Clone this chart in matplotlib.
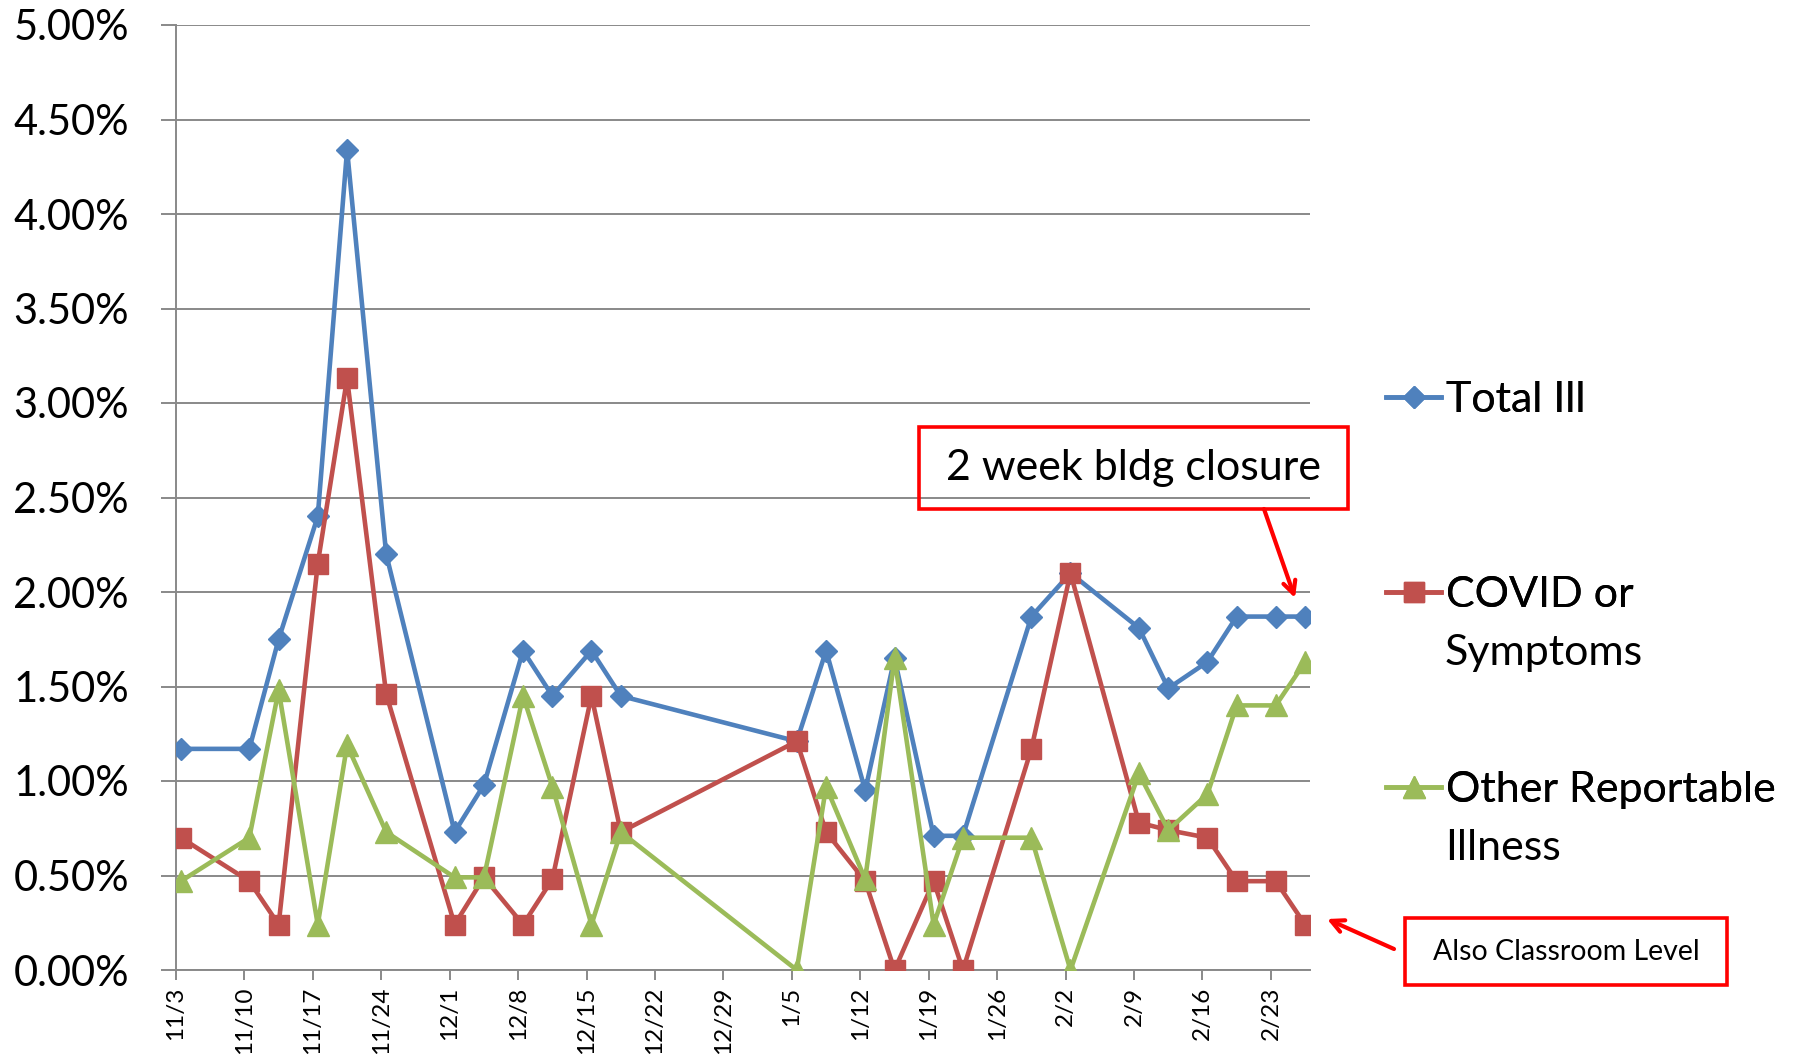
import matplotlib
matplotlib.use("Agg")
import matplotlib.pyplot as plt
from matplotlib.patches import Rectangle
import pandas as pd

# ---- data (values in percent) ----
dates = ["11/3", "11/10", "11/13", "11/17", "11/20", "11/24", "12/1", "12/4", "12/8",
         "12/11", "12/15", "12/18", "1/5", "1/8", "1/12", "1/15", "1/19", "1/22",
         "1/29", "2/2", "2/9", "2/12", "2/16", "2/19", "2/23", "2/26"]
total_ill = [1.17, 1.17, 1.75, 2.40, 4.34, 2.20, 0.73, 0.98, 1.69, 1.45, 1.69, 1.45,
             1.21, 1.69, 0.95, 1.65, 0.71, 0.71, 1.87, 2.10, 1.81, 1.49, 1.63, 1.87,
             1.87, 1.87]
covid = [0.70, 0.47, 0.24, 2.15, 3.13, 1.46, 0.24, 0.49, 0.24, 0.48, 1.45, 0.73,
         1.21, 0.73, 0.47, 0.00, 0.47, 0.00, 1.17, 2.10, 0.78, 0.74, 0.70, 0.47,
         0.47, 0.24]
other = [0.47, 0.70, 1.48, 0.24, 1.19, 0.73, 0.49, 0.49, 1.45, 0.97, 0.24, 0.73,
         0.00, 0.97, 0.48, 1.65, 0.24, 0.70, 0.70, 0.00, 1.04, 0.74, 0.93, 1.40,
         1.40, 1.63]
tick_labels = ["11/3", "11/10", "11/17", "11/24", "12/1", "12/8", "12/15", "12/22",
               "12/29", "1/5", "1/12", "1/19", "1/26", "2/2", "2/9", "2/16", "2/23"]
series_names = ["Total Ill", "COVID or", "Other Reportable"]
series_second_lines = ["", "Symptoms", "Illness"]
y_ticks = [0.0, 0.5, 1.0, 1.5, 2.0, 2.5, 3.0, 3.5, 4.0, 4.5, 5.0]


def to_date(s):
    m, d = (int(p) for p in s.split("/"))
    return pd.Timestamp(year=2020 if m >= 11 else 2021, month=m, day=d)


start = to_date("11/3")
x_days = [(to_date(s) - start).days + 0.5 for s in dates]   # points sit mid-day
x_ticks = [(to_date(s) - start).days for s in tick_labels]
x_end = (to_date(dates[-1]) - start).days + 1

FONT = "Lato"
plt.rcParams["font.family"] = [FONT, "DejaVu Sans"]

W, H = 1802, 1058
fig = plt.figure(figsize=(W / 100, H / 100), dpi=100)
ax = fig.add_axes([176 / W, (H - 970) / H, (1310 - 176) / W, (970 - 25) / H])

BLUE, RED, GREEN = "#4F81BD", "#C0504D", "#9BBB59"
GRID = "#898989"
lw = 3.3

h1, = ax.plot(x_days, total_ill, color=BLUE, lw=lw, marker="D", ms=11.5,
              mec=BLUE, zorder=3)
h2, = ax.plot(x_days, covid, color=RED, lw=lw, marker="s", ms=14.5,
              mec=RED, zorder=3)
h3, = ax.plot(x_days, other, color=GREEN, lw=lw, marker="^", ms=15.5,
              mec=GREEN, zorder=3)

ax.set_xlim(0, x_end)
ax.set_ylim(0, 5)
ax.set_yticks(y_ticks)
ax.set_yticklabels([f"{v:.2f}%" for v in y_ticks], fontsize=30)
ax.set_xticks(x_ticks)
ax.set_xticklabels(tick_labels, rotation=90, fontsize=17.5)

ax.yaxis.grid(True, color=GRID, lw=1.4)
ax.set_axisbelow(True)
for side in ("top", "right"):
    ax.spines[side].set_visible(False)
for side in ("left", "bottom"):
    ax.spines[side].set_color(GRID)
    ax.spines[side].set_linewidth(1.4)
ax.tick_params(axis="y", length=10.8, width=1.4, color=GRID, pad=23)
ax.tick_params(axis="x", length=7.2, width=1.4, color=GRID, pad=5)

# ---- legend: one entry each, placed like the original ----
leg_y = [400, 595, 790]
for h, name, yy in zip([h1, h2, h3], series_names, leg_y):
    lg = fig.legend([h], [name], loc="center left",
                    bbox_to_anchor=(1386 / W, (H - yy) / H),
                    frameon=False, fontsize=31, borderpad=0, borderaxespad=0,
                    handlelength=1.28, handletextpad=0.12, markerscale=1.0)
    fig.add_artist(lg)
for txt, yy in zip(series_second_lines, [None, 653, 848]):
    if txt:
        fig.text(1445 / W, (H - yy) / H, txt, fontsize=31, ha="left", va="center")

# ---- annotations ----
box_kw = dict(fill=False, edgecolor="#FF0000", lw=2.6, transform=fig.transFigure)
fig.add_artist(Rectangle((919 / W, (H - 509) / H), (1348 - 919) / W, (509 - 427) / H, **box_kw))
fig.text((919 + 1348) / 2 / W, (H - 468) / H, "2 week bldg closure",
         fontsize=31, ha="center", va="center")
fig.add_artist(Rectangle((1405 / W, (H - 985) / H), (1727 - 1405) / W, (985 - 918) / H, **box_kw))
fig.text((1405 + 1727) / 2 / W, (H - 952) / H, "Also Classroom Level",
         fontsize=20.5, ha="center", va="center")

arrow_kw = dict(arrowstyle="->,head_length=0.9,head_width=0.45", color="#FF0000",
                lw=3, shrinkA=0, shrinkB=0)
ax.annotate("", xy=(1295, H - 598), xycoords="figure pixels",
            xytext=(1264, H - 509), textcoords="figure pixels", arrowprops=arrow_kw)
ax.annotate("", xy=(1327, H - 919), xycoords="figure pixels",
            xytext=(1394, H - 949), textcoords="figure pixels", arrowprops=arrow_kw)

fig.savefig("out.png", dpi=100)
